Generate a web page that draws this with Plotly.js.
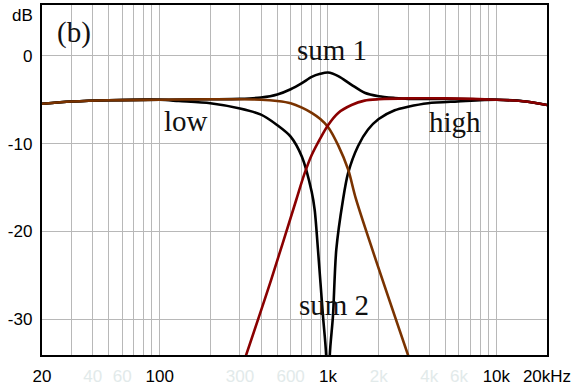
<!DOCTYPE html>
<html>
<head>
<meta charset="utf-8">
<script src="https://cdn.plot.ly/plotly-3.0.1.min.js"></script>
<style>html,body{margin:0;padding:0;background:#fff;}#chart{width:576px;height:390px;}</style>
</head>
<body>
<div id="chart"></div>
<script>
// ---- data (frequency in Hz, level in dB) ----
const lowFreq = [20, 30, 50, 100, 200, 300, 400, 500, 600, 700, 800, 900, 1000, 1150, 1320, 1470, 3000];
const lowDb   = [-5.45, -5.2, -5.05, -5.0, -4.95, -4.95, -5.0, -5.15, -5.4, -5.9, -6.5, -7.2, -8.1, -10.2, -13.0, -16.4, -34.2];

const highFreq = [325, 460, 648, 720, 800, 900, 1000, 1150, 1380, 1650, 2000, 3000, 5000, 10000, 15000, 20000];
const highDb   = [-34.2, -25.5, -16.4, -13.6, -11.3, -9.4, -7.9, -6.5, -5.6, -5.1, -4.95, -4.85, -4.85, -5.0, -5.2, -5.6];

const sum1Freq = [20, 30, 50, 100, 200, 300, 400, 500, 600, 700, 800, 900, 1000, 1150, 1380, 1650, 2000, 2500, 3000, 5000, 10000, 15000, 20000];
const sum1Db   = [-5.45, -5.2, -5.05, -5.0, -4.95, -4.9, -4.75, -4.4, -3.8, -3.1, -2.4, -2.05, -1.9, -2.3, -3.3, -4.2, -4.6, -4.8, -4.9, -4.9, -5.0, -5.2, -5.6];

const sum2LeftFreq = [20, 30, 50, 100, 130, 200, 300, 400, 500, 600, 700, 800, 834, 872, 934, 975, 990];
const sum2LeftDb   = [-5.45, -5.2, -5.05, -5.0, -5.15, -5.4, -6.0, -6.7, -7.9, -9.2, -11.5, -15.5, -17.6, -22.1, -29.7, -34.1, -45];
const sum2RightFreq = [1010, 1025, 1070, 1120, 1228, 1315, 1507, 1730, 2000, 2490, 2990, 3930, 5900, 10000, 15000, 20000];
const sum2RightDb   = [-45, -34.1, -29.7, -22.1, -16.4, -13.4, -10.3, -8.4, -7.2, -6.2, -5.8, -5.4, -5.2, -5.0, -5.2, -5.6];

const xGridVals = [20,30,40,50,60,70,80,90,100,200,300,400,500,600,700,800,900,1000,2000,3000,4000,5000,6000,7000,8000,9000,10000,20000];
const xLabelVals = [20, 40, 60, 100, 300, 600, 1000, 2000, 4000, 6000, 10000, 20000];
const xLabelText = ['20', '40', '60', '100', '300', '600', '1k', '2k', '4k', '6k', '10k', '20kHz'];
const xLabelFaint = [false, true, true, false, true, true, false, true, true, true, false, false];

const yTickVals = [0, -10, -20, -30];
const yTickText = ['0', '-10', '-20', '-30'];

// ---- build ----
const faint = '#e2eaea';
const ticktext = xGridVals.map(v => {
  const i = xLabelVals.indexOf(v);
  if (i < 0) return '';
  return xLabelFaint[i] ? '<span style="color:' + faint + '">' + xLabelText[i] + '</span>' : xLabelText[i];
});

const lw = 2.6;
const traces = [
  {x: sum1Freq, y: sum1Db, mode: 'lines', line: {color: '#000000', width: lw, shape: 'spline', smoothing: 0.8}},
  {x: sum2LeftFreq, y: sum2LeftDb, mode: 'lines', line: {color: '#000000', width: lw, shape: 'spline', smoothing: 0.8}},
  {x: sum2RightFreq, y: sum2RightDb, mode: 'lines', line: {color: '#000000', width: lw, shape: 'spline', smoothing: 0.8}},
  {x: lowFreq, y: lowDb, mode: 'lines', line: {color: '#7a3300', width: lw, shape: 'spline', smoothing: 0.8}},
  {x: highFreq, y: highDb, mode: 'lines', line: {color: '#8a0000', width: lw, shape: 'spline', smoothing: 0.8}}
];

const L = 42, R = 547, T = 5, B = 355;
const px = x => (x - L) / (R - L);
const py = y => (B - y) / (B - T);
const serif = {family: '"Liberation Serif", "Times New Roman", serif', size: 29, color: '#111'};

const layout = {
  width: 576, height: 390,
  margin: {l: L, r: 576 - R, t: T, b: 390 - B, pad: 0},
  paper_bgcolor: '#ffffff', plot_bgcolor: '#ffffff',
  showlegend: false,
  font: {family: '"Liberation Sans", Arial, sans-serif', size: 17, color: '#000'},
  xaxis: {
    type: 'log', range: [Math.log10(20), Math.log10(20000)],
    tickmode: 'array', tickvals: xGridVals, ticktext: ticktext,
    ticks: '', showgrid: true, gridcolor: '#b8b8b8', gridwidth: 1,
    showline: true, linecolor: '#000', linewidth: 2.2, mirror: true,
    zeroline: false, ticklabelstandoff: 4, fixedrange: true
  },
  yaxis: {
    range: [-34.1, 5.8],
    tickmode: 'array', tickvals: yTickVals, ticktext: yTickText,
    ticks: '', showgrid: true, gridcolor: '#b8b8b8', gridwidth: 1,
    showline: true, linecolor: '#000', linewidth: 2.2, mirror: true,
    zeroline: false, ticklabelstandoff: 4, fixedrange: true
  },
  annotations: [
    {text: 'dB', xref: 'paper', yref: 'paper', x: px(35), y: py(15), xanchor: 'right', yanchor: 'middle', showarrow: false,
     font: {family: '"Liberation Sans", Arial, sans-serif', size: 17, color: '#000'}},
    {text: '(b)', xref: 'paper', yref: 'paper', x: px(74), y: py(33), xanchor: 'center', yanchor: 'middle', showarrow: false, font: serif},
    {text: 'sum 1', xref: 'paper', yref: 'paper', x: px(332), y: py(50), xanchor: 'center', yanchor: 'middle', showarrow: false, font: serif},
    {text: 'low', xref: 'paper', yref: 'paper', x: px(186), y: py(121), xanchor: 'center', yanchor: 'middle', showarrow: false, font: serif},
    {text: 'high', xref: 'paper', yref: 'paper', x: px(455), y: py(122), xanchor: 'center', yanchor: 'middle', showarrow: false, font: serif},
    {text: 'sum 2', xref: 'paper', yref: 'paper', x: px(334), y: py(305), xanchor: 'center', yanchor: 'middle', showarrow: false, font: serif}
  ]
};

Plotly.newPlot('chart', traces, layout, {displayModeBar: false, staticPlot: true});
</script>
</body>
</html>
